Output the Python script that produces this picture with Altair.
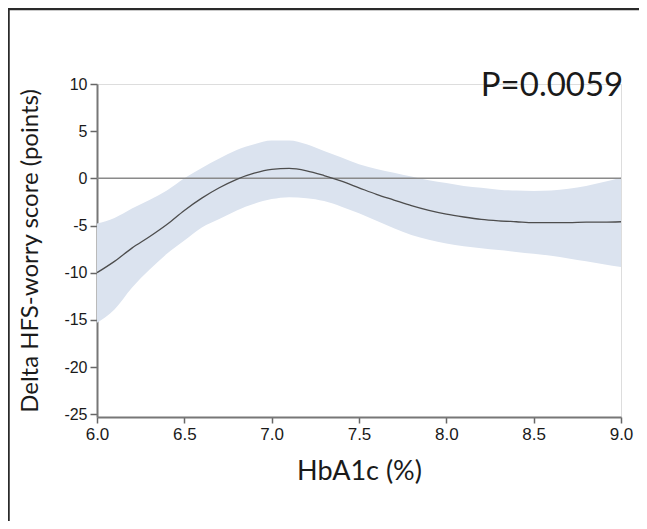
import altair as alt
import pandas as pd

hba1c = [6.0, 6.1, 6.2, 6.3, 6.4, 6.5, 6.6, 6.7, 6.8, 6.9, 7.0,
         7.1, 7.2, 7.3, 7.4, 7.5, 7.6, 7.7, 7.8, 7.9, 8.0,
         8.1, 8.2, 8.3, 8.4, 8.5, 8.6, 8.7, 8.8, 8.9, 9.0]
delta = [-10.0, -8.8, -7.4, -6.2, -4.9, -3.4, -2.1, -1.0, -0.1, 0.55, 0.95,
         1.05, 0.8, 0.3, -0.3, -1.0, -1.7, -2.3, -2.9, -3.4, -3.8,
         -4.1, -4.35, -4.5, -4.6, -4.7, -4.7, -4.7, -4.65, -4.65, -4.6]
upper = [-4.8, -4.2, -3.2, -2.3, -1.3, 0.0, 1.1, 2.1, 3.0, 3.6, 4.0,
         4.0, 3.6, 2.9, 2.2, 1.5, 1.0, 0.6, 0.2, -0.2, -0.5,
         -0.8, -1.0, -1.2, -1.3, -1.35, -1.3, -1.1, -0.8, -0.4, 0.1]
lower = [-15.3, -13.9, -11.6, -9.7, -8.0, -6.6, -5.2, -4.3, -3.4, -2.7, -2.2,
         -2.0, -2.1, -2.4, -3.0, -3.7, -4.5, -5.3, -6.0, -6.5, -6.9,
         -7.2, -7.4, -7.6, -7.8, -8.0, -8.2, -8.5, -8.8, -9.1, -9.4]
x_ticks = [6.0, 6.5, 7.0, 7.5, 8.0, 8.5, 9.0]
y_ticks = [-25, -20, -15, -10, -5, 0, 5, 10]
p_label = "P=0.0059"

df = pd.DataFrame({"hba1c": hba1c, "delta": delta, "upper": upper, "lower": lower})

xscale = alt.Scale(domain=[6, 9], nice=False, zero=False)
yscale = alt.Scale(domain=[-25.3, 10], nice=False, zero=False)

xaxis = alt.Axis(values=x_ticks, format=".1f", grid=False, labelFlush=False,
                 domainColor="#777777", domainWidth=2, tickColor="#666666",
                 tickWidth=1.5, tickSize=6, labelFont="Liberation Sans",
                 labelFontSize=17, labelColor="#1a1a1a", labelPadding=3,
                 title="HbA1c (%)", titleFont="Lato", titleFontSize=27,
                 titleFontWeight="normal", titleColor="#1a1a1a", titlePadding=16)
yaxis = alt.Axis(values=y_ticks, labelExpr="'' + datum.value", grid=False,
                 labelFlush=False,
                 domainColor="#777777", domainWidth=2, tickColor="#666666",
                 tickWidth=1.5, tickSize=7, labelFont="Liberation Sans",
                 labelFontSize=16, labelColor="#1a1a1a", labelPadding=3,
                 title="Delta HFS-worry score (points)", titleFont="Lato",
                 titleFontSize=24, titleFontWeight="normal", titleColor="#1a1a1a",
                 titlePadding=21)

base = alt.Chart(df)
band = base.mark_area(color="#dbe3ef", interpolate="monotone").encode(
    x=alt.X("hba1c:Q", scale=xscale, axis=xaxis),
    y=alt.Y("lower:Q", scale=yscale, axis=yaxis),
    y2="upper:Q",
)
zero = alt.Chart(pd.DataFrame({"y": [0]})).mark_rule(
    color="#8a8a8a", strokeWidth=1.5).encode(y=alt.Y("y:Q", scale=yscale))
line = base.mark_line(color="#4d4d4d", strokeWidth=1.3, interpolate="monotone").encode(
    x=alt.X("hba1c:Q", scale=xscale),
    y=alt.Y("delta:Q", scale=yscale),
)
ptext = alt.Chart(pd.DataFrame({"t": [p_label]})).mark_text(
    font="Lato", fontSize=33, color="#1a1a1a", align="center", baseline="middle"
).encode(text="t:N", x=alt.value(455), y=alt.value(2))

border_top = alt.Chart(pd.DataFrame({"a": [0]})).mark_rule(
    color="#2a2a2a", strokeWidth=2.5).encode(
    x=alt.value(-89), x2=alt.value(560), y=alt.value(-75))
border_left = alt.Chart(pd.DataFrame({"a": [0]})).mark_rule(
    color="#2a2a2a", strokeWidth=2.5).encode(
    x=alt.value(-88.5), y=alt.value(-76), y2=alt.value(460))

chart = alt.layer(band, zero, line, ptext, border_top, border_left).properties(
    width=524, height=333,
    autosize=alt.AutoSizeParams(type="none"),
    padding={"left": 89, "top": 76, "right": 18, "bottom": 104},
).configure_view(stroke=None).configure(background="white")

chart.save("out.html", embed_options={"renderer": "svg", "actions": False})
